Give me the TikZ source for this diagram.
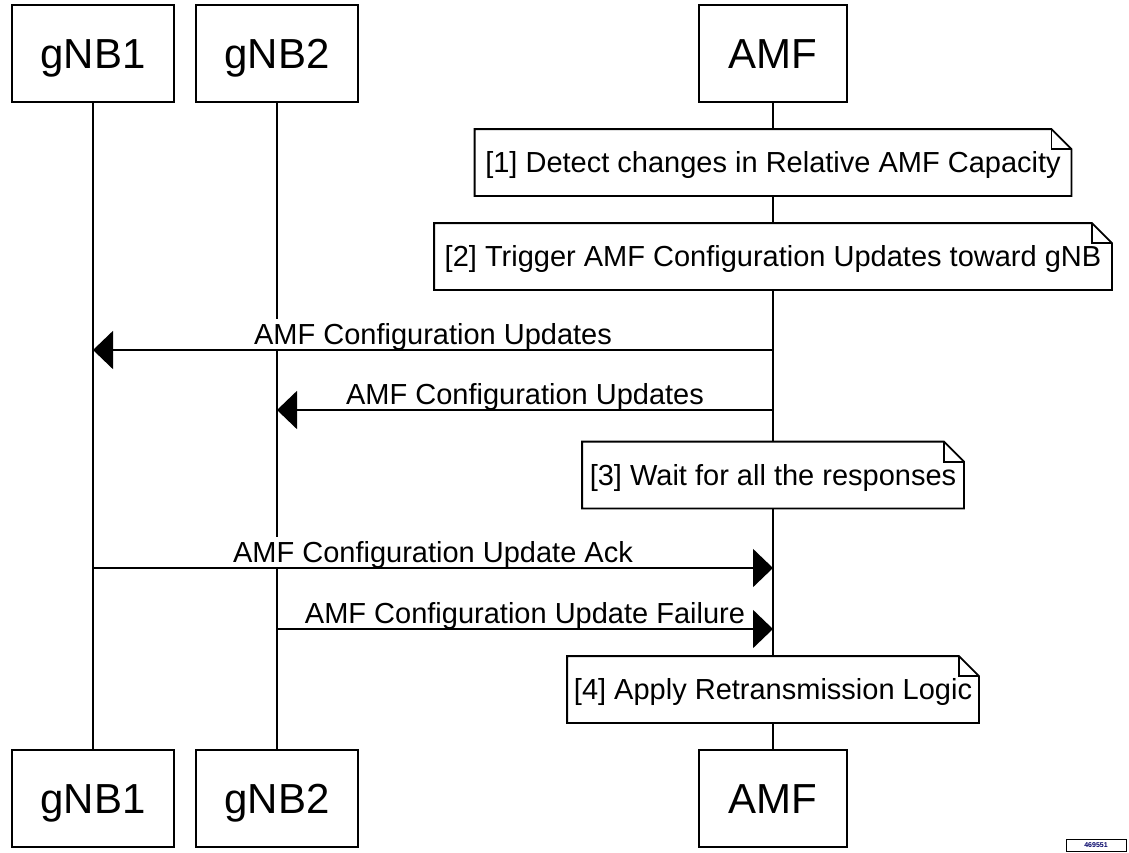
\documentclass[tikz,border=0pt]{standalone}
\usepackage{fontspec}
\setmainfont{Liberation Sans}
\usetikzlibrary{arrows.meta}

\begin{document}
\begin{tikzpicture}[x=1pt, y=-1pt, line width=1.8pt,
		actor/.style={draw, minimum height=97pt, inner sep=0pt, text height=30pt, text depth=1pt, font=\fontsize{42}{48}\selectfont},
		note/.style={minimum height=65pt, inner sep=0pt},
		msg/.style={-{Triangle[length=20pt, width=38pt]}},
		lbl/.style={anchor=base, fill=white, inner sep=0pt, text height=25pt, text depth=5pt, yshift=6pt, font=\fontsize{29}{34}\selectfont}]
		\useasboundingbox (0,0) rectangle (1129,852);
		
		% participants, top and bottom, with lifelines
		\foreach \n/\t/\x/\w in {g1/gNB1/93/162, g2/gNB2/277/162, amf/AMF/773/148}
		{
			\node[actor, minimum width=\w pt] (\n-top) at (\x, 53.5) {\t};
			\node[actor, minimum width=\w pt] (\n-bot) at (\x, 798.5) {\t};
			\draw (\n-top) -- (\n-bot);
		}
		
		% notes on the AMF lifeline
		\foreach \n/\y/\w/\t in {n1/162.5/595/{[1] Detect changes in Relative AMF Capacity},
			n2/256.5/676/{[2] Trigger AMF Configuration Updates toward gNB},
			n3/475/380/{[3] Wait for all the responses},
			n4/689.5/410/{[4] Apply Retransmission Logic}}
		{
			\path node[note, minimum width=\w pt] (\n) at (amf-top |- 0,\y) {};
			\draw[fill=white] (\n.north west) -- ([xshift=-20pt]\n.north east) -- ([yshift=-20pt]\n.north east) -- (\n.south east) -- (\n.south west) -- cycle;
			\draw ([xshift=-20pt]\n.north east) |- ([yshift=-20pt]\n.north east);
			\node[inner sep=0pt, text height=20.8pt, text depth=0pt, font=\fontsize{29}{34}\selectfont] (\n-txt) at (\n) {\t};
		}
		
		% messages
		\draw[msg] (amf-top |- 0,350) -- node[lbl] (m1) {AMF Configuration Updates} (g1-top |- 0,350);
		\draw[msg] (amf-top |- 0,410) -- node[lbl] (m2) {AMF Configuration Updates} (g2-top |- 0,410);
		\draw[msg] (g1-top |- 0,568) -- node[lbl] (m3) {AMF Configuration Update Ack} (amf-top |- 0,568);
		\draw[msg] (g2-top |- 0,629) -- node[lbl] (m4) {AMF Configuration Update Failure} (amf-top |- 0,629);
		
		% figure number, bottom right
		\node[draw, line width=0.8pt, anchor=north, minimum width=60pt, minimum height=12pt, inner sep=1pt, text=blue!40!black, font=\fontsize{7}{8}\selectfont\bfseries] (fig-id) at (1096,839) {469551};
	\end{tikzpicture}
\end{document}
